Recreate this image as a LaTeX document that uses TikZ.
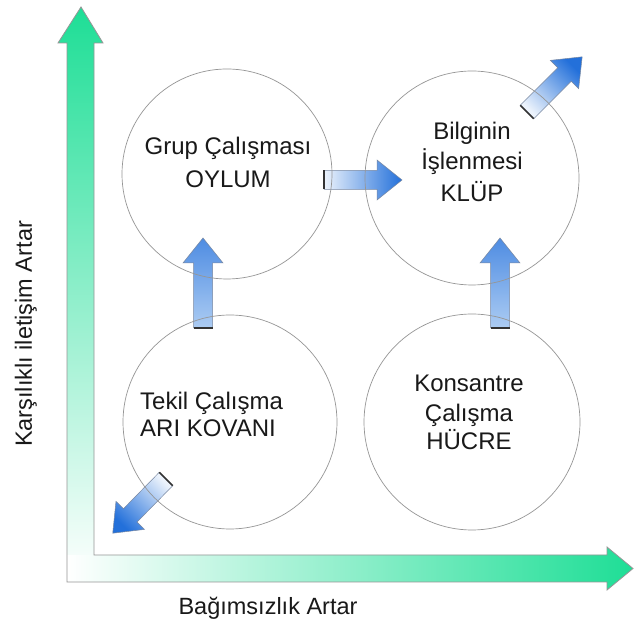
\documentclass[tikz,border=0pt]{standalone}
\usepackage{fontspec}
\setmainfont{Liberation Sans}
\usetikzlibrary{calc}
\definecolor{axgreen}{RGB}{30,222,150}
\definecolor{axline}{RGB}{150,150,150}
\definecolor{circline}{RGB}{150,150,150}
\definecolor{blight}{RGB}{236,243,252}
\definecolor{bdark}{RGB}{35,112,218}
\definecolor{ulight}{RGB}{172,204,243}
\definecolor{udark}{RGB}{78,140,226}
\definecolor{arline}{RGB}{120,135,160}
\definecolor{txt}{RGB}{25,25,25}
\def\arSW{9.5}\def\arHW{20}\def\arHL{25}
\newcommand{\blockarr}[5]{%
  \path[#4,shading angle=#5]
    ($(#1)+(#2+90:\arSW)$) -- ($(#1)+(#2:#3-\arHL)+(#2+90:\arSW)$)
    -- ($(#1)+(#2:#3-\arHL)+(#2+90:\arHW)$) -- ($(#1)+(#2:#3)$)
    -- ($(#1)+(#2:#3-\arHL)+(#2-90:\arHW)$) -- ($(#1)+(#2:#3-\arHL)+(#2-90:\arSW)$)
    -- ($(#1)+(#2-90:\arSW)$) -- cycle;
  \draw[tailcap] ($(#1)+(#2+90:\arSW)$) -- ($(#1)+(#2-90:\arSW)$);
}
\tikzset{
  bluearr/.style={draw=arline, line width=0.5pt, top color=blight, bottom color=bdark},
  uparr/.style={draw=arline, line width=0.5pt, top color=ulight, bottom color=udark},
  tailcap/.style={draw=black!80, line width=1.6pt},
  ring/.style={circle, draw=circline, line width=0.7pt, inner sep=0pt},
  lbl/.style={font=\fontsize{24}{24}\selectfont, text=txt, inner sep=0pt, anchor=base},
  axlbl/.style={font=\fontsize{23.5}{24}\selectfont, text=txt, inner sep=0pt, anchor=base},
}
\begin{document}
\begin{tikzpicture}[x=1pt,y=1pt]
\useasboundingbox (0,0) rectangle (634,623);
\fill[white] (0,0) rectangle (634,623);
% axes
\shade[bottom color=white, top color=axgreen] (67,41) -- (67,580) -- (58,580) -- (81,616) -- (103,580) -- (94,580) -- (94,41) -- cycle;
\shade[left color=white, right color=axgreen] (67,41) -- (67,68) -- (607,68) -- (607,76) -- (633,54.5) -- (607,33) -- (607,41) -- cycle;
\draw[axline, line width=0.8pt, line join=miter] (67,41) -- (67,580) -- (58,580) -- (81,616) -- (103,580) -- (94,580) -- (94,68) -- (607,68) -- (607,76) -- (633,54.5) -- (607,33) -- (607,41) -- cycle;
% arrow tails
\coordinate (t1) at (203,295);
\coordinate (t2) at (500,295);
\coordinate (t3) at (324,443);
\coordinate (t4) at (527,511);
\coordinate (t5) at (166,144);
\blockarr{t1}{90}{90}{uparr}{180}
\blockarr{t2}{90}{90}{uparr}{180}
\blockarr{t3}{0}{78}{bluearr}{90}
\blockarr{t4}{45}{78}{bluearr}{135}
\blockarr{t5}{225.5}{76}{bluearr}{315.5}
% circles
\node[ring, minimum size=210] (c1) at (227,449) {};
\node[ring, minimum size=214] (c2) at (472,445) {};
\node[ring, minimum size=214] (c3) at (230,201) {};
\node[ring, minimum size=216] (c4) at (472,201) {};
% texts
\node[lbl] (g1) at (228,468) {Grup Çalışması};
\node[lbl] (g2) at (228,435) {OYLUM};
\node[lbl] (b1) at (472,483) {Bilginin};
\node[lbl] (b2) at (472,453) {İşlenmesi};
\node[lbl] (b3) at (472,421) {KLÜP};
\node[lbl] (k1) at (469,231) {Konsantre};
\node[lbl] (k2) at (469,201) {Çalışma};
\node[lbl] (k3) at (469,173) {HÜCRE};
\node[lbl, anchor=base west] (a1) at (140,213) {Tekil Çalışma};
\node[lbl, anchor=base west] (a2) at (140,186) {ARI KOVANI};
\node[axlbl] (xl) at (268,8) {Bağımsızlık Artar};
\node[axlbl, rotate=90] (yl) at (32,289) {Karşılıklı iletişim Artar};
\end{tikzpicture}
\end{document}
